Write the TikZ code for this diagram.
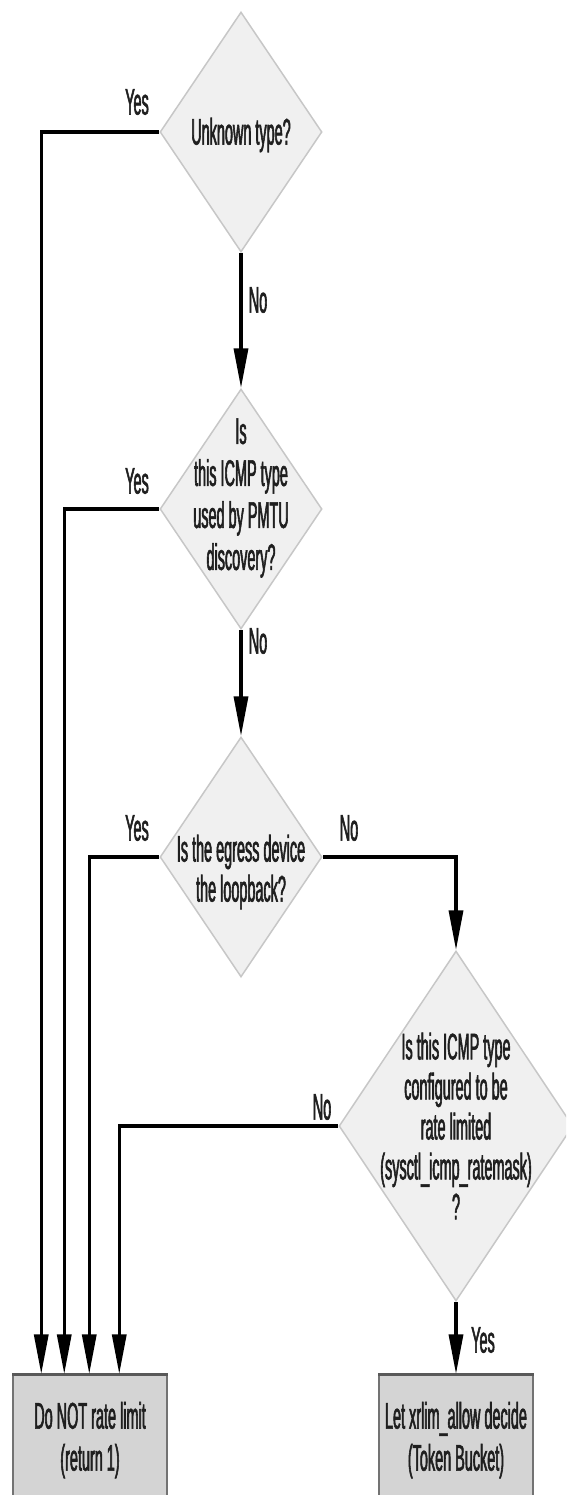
\documentclass[tikz,border=0pt]{standalone}
\usepackage{fontspec}
\setmainfont{Liberation Sans}[FakeStretch=0.39, FakeBold=1.5]
\usetikzlibrary{shapes.geometric,arrows.meta}

\begin{document}
\begin{tikzpicture}[x=1pt, y=-1pt,
  decision/.style={diamond, draw=black!22, line width=1.5pt, fill=black!6,
    minimum width=162pt, minimum height=240pt, inner sep=0pt},
  qtext/.style={align=center, text=black!88, inner sep=0pt,
    font=\fontsize{37}{40}\selectfont},
  endbox/.style={rectangle, draw=black!55, line width=1.5pt, fill=black!17,
    minimum width=154pt, minimum height=130pt, inner sep=0pt, align=center,
    text=black!88, font=\fontsize{37}{42}\selectfont},
  boxtop/.style={line width=3.5pt, black!65},
  flow/.style={line width=3.5pt, -{Triangle[length=40pt,width=14pt]}}]

  % Page
  \clip (0,0) rectangle (566,1495);

  % Decisions
  \node[decision] (d1) at (241,132) {};
  \node[decision] (d2) at (241,509) {};
  \node[decision] (d3) at (241,857) {};
  \node[decision, minimum width=234pt, minimum height=350pt] (d4) at (456,1126) {};

  % Questions
  \node[qtext] (t1) at (241,135) {Unknown type?};
  \node[qtext, font=\fontsize{37}{42}\selectfont] (t2) at (241,498)
    {Is\\this ICMP type\\used by PMTU\\discovery?};
  \node[qtext] (t3) at (241,872) {Is the egress device\\the loopback?};
  \node[qtext] (t4) at (456,1126)
    {Is this ICMP type\\configured to be\\rate limited\\(sysctl\_icmp\_ratemask)\\?};

  % Results
  \node[endbox] (b1) at (90,1440) {Do NOT rate limit\\(return 1)};
  \node[endbox] (b2) at (456,1440) {Let xrlim\_allow decide\\(Token Bucket)};
  \draw[boxtop] (b1.north west) -- (b1.north east);
  \draw[boxtop] (b2.north west) -- (b2.north east);

  % Entry points on the left box
  \coordinate (in1) at ([xshift=29pt]b1.north west);
  \coordinate (in2) at ([xshift=52pt]b1.north west);
  \coordinate (in3) at ([xshift=77pt]b1.north west);
  \coordinate (in4) at ([xshift=107pt]b1.north west);

  % No branches
  \draw[flow] (d1.south) -- (d2.north);
  \draw[flow] (d2.south) -- (d3.north);
  \draw[flow] (d3.east) -| (d4.north);
  \draw[flow] (d4.south) -- (b2.north);

  % Yes branches
  \draw[flow] (d1.west) -| (in1);
  \draw[flow] (d2.west) -| (in2);
  \draw[flow] (d3.west) -| (in3);
  \draw[flow] (d4.west) -| (in4);

  % Answers
  \node[qtext] (y1) at (137,102) {Yes};
  \node[qtext] (n1) at (258,300) {No};
  \node[qtext] (y2) at (137,481) {Yes};
  \node[qtext] (n2) at (258,641) {No};
  \node[qtext] (y3) at (137,828) {Yes};
  \node[qtext] (n3) at (349,828) {No};
  \node[qtext] (n4) at (322,1107) {No};
  \node[qtext] (y4) at (483,1340) {Yes};
\end{tikzpicture}
\end{document}
